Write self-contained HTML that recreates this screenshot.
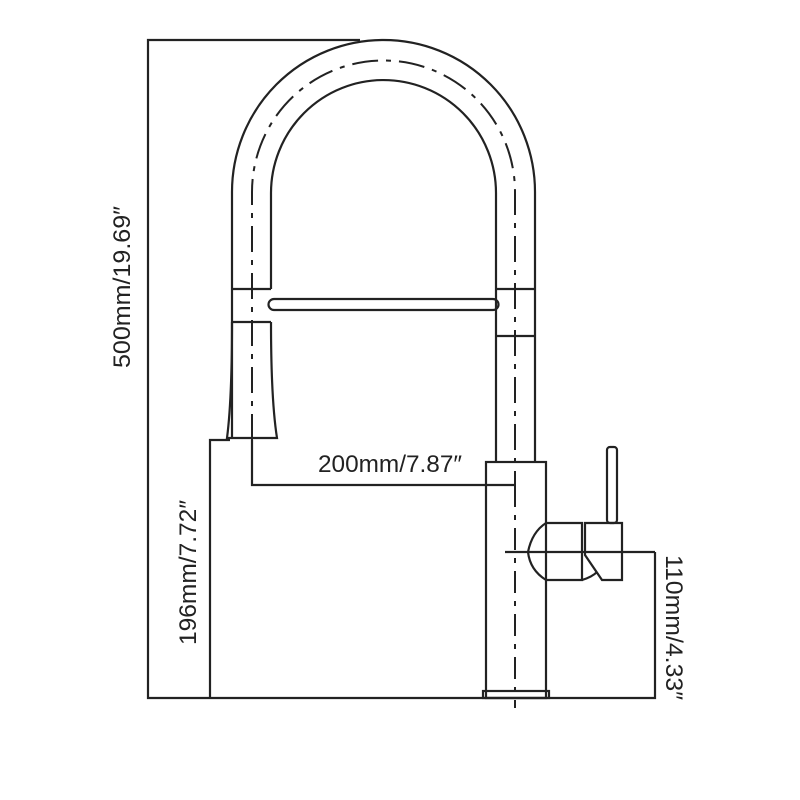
<!DOCTYPE html>
<html><head><style>html,body{margin:0;padding:0;background:#fff}svg{display:block}</style></head>
<body>
<svg width="800" height="800" viewBox="0 0 800 800" xmlns="http://www.w3.org/2000/svg">
<g fill="none" stroke="#222" stroke-width="2.2">
<polyline points="360,40 148,40 148,698 655,698 655,552"/>
<polyline points="230,440 210,440 210,698"/>
<polyline points="252,440 252,485 515,485"/>
<path d="M232,438 L232,192 A151.5,152 0 0 1 535,192 L535,462"/>
<path d="M271,289 L271,193 A112.5,113 0 0 1 496,193 L496,462"/>
<path d="M232,322 Q232,400 227,438 L277,438 Q271,400 271,322"/>
<line x1="232" y1="289" x2="271" y2="289"/>
<line x1="232" y1="322" x2="271" y2="322"/>
<line x1="496" y1="289" x2="535" y2="289"/>
<line x1="496" y1="336" x2="535" y2="336"/>
<path d="M274,299 L493,299 A5.5,5.5 0 0 1 493,310 L274,310 A5.5,5.5 0 0 1 274,299 Z"/>
<rect x="486" y="462" width="60" height="236"/>
<rect x="483" y="691" width="66" height="7"/>
<path d="M546,523 L582,523 L582,580 L546,580 Q530,570 528,552 Q532,532 546,523 Z"/>
<path d="M585,523 L622,523 L622,580 L602,580 L585,555 Z"/>
<path d="M582,580 Q592,577 597,572"/>
<rect x="607" y="447" width="10" height="76" rx="3"/>
<line x1="505" y1="552" x2="655" y2="552"/>
</g>
<g fill="none" stroke="#222" stroke-width="2">
<path d="M252,440 L252,192 A131.5,131.5 0 0 1 515,192 L515,485" stroke-dasharray="26,8,5,8"/>
<line x1="515" y1="485" x2="515" y2="708" stroke-dasharray="22,8,5,8"/>
</g>
<g font-family="'Liberation Sans Narrow','Liberation Sans',sans-serif" font-size="24" fill="#222">
<text x="318" y="472" textLength="144" lengthAdjust="spacingAndGlyphs">200mm/7.87″</text>
<text transform="translate(130,368) rotate(-90)" textLength="162" lengthAdjust="spacingAndGlyphs">500mm/19.69″</text>
<text transform="translate(196,645) rotate(-90)" textLength="145" lengthAdjust="spacingAndGlyphs">196mm/7.72″</text>
<text transform="translate(666,555) rotate(90)" textLength="145" lengthAdjust="spacingAndGlyphs">110mm/4.33″</text>
</g>
</svg>
</body></html>
